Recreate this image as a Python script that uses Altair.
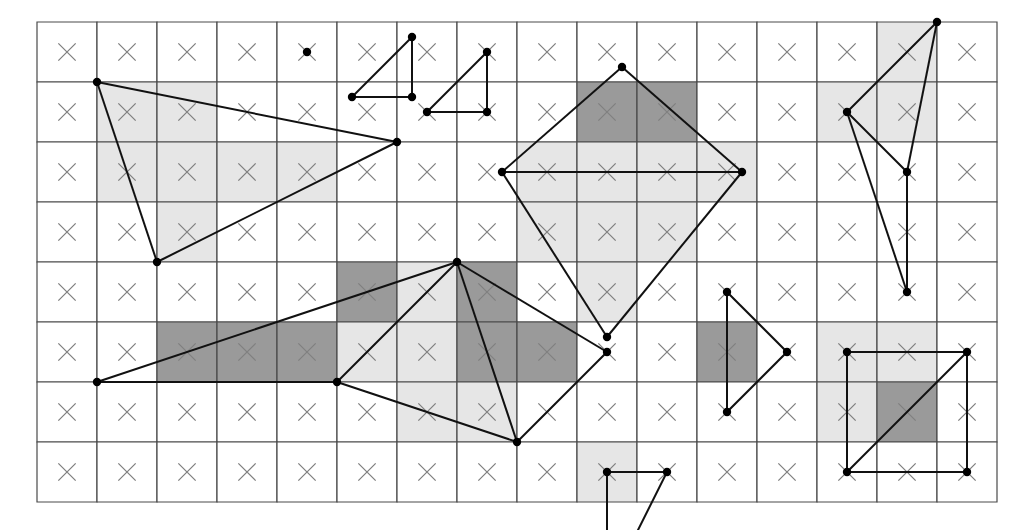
import pandas as pd
import altair as alt

n_cols, n_rows = 16, 8

# shaded cells as (col, row), row 0 at top
light_cells = [(1, 1), (2, 1), (1, 2), (2, 2), (3, 2), (4, 2), (2, 3),
               (8, 2), (9, 2), (10, 2), (11, 2), (8, 3), (9, 3), (10, 3), (9, 4),
               (14, 0), (13, 1), (14, 1), (6, 4), (5, 5), (6, 5), (6, 6), (7, 6),
               (13, 5), (14, 5), (13, 6), (9, 7)]
dark_cells = [(9, 1), (10, 1), (5, 4), (7, 4), (2, 5), (3, 5), (4, 5), (7, 5),
              (8, 5), (11, 5), (14, 6)]

# line segments (x1, y1, x2, y2) in grid units
segments = [
    (1, 1, 6, 2), (6, 2, 2, 4), (2, 4, 1, 1),
    (6.25, 0.25, 5.25, 1.25), (5.25, 1.25, 6.25, 1.25), (6.25, 1.25, 6.25, 0.25),
    (7.5, 0.5, 6.5, 1.5), (6.5, 1.5, 7.5, 1.5), (7.5, 1.5, 7.5, 0.5),
    (9.75, 0.75, 7.75, 2.5), (9.75, 0.75, 11.75, 2.5), (7.75, 2.5, 11.75, 2.5),
    (7.75, 2.5, 9.5, 5.25), (11.75, 2.5, 9.5, 5.25),
    (15, 0, 13.5, 1.5), (15, 0, 14.5, 2.5), (13.5, 1.5, 14.5, 2.5),
    (13.5, 1.5, 14.5, 4.5), (14.5, 2.5, 14.5, 4.5),
    (1, 6, 7, 4), (1, 6, 5, 6), (5, 6, 7, 4), (5, 6, 8, 7), (7, 4, 8, 7),
    (7, 4, 9.5, 5.5), (9.5, 5.5, 8, 7),
    (11.5, 4.5, 12.5, 5.5), (12.5, 5.5, 11.5, 6.5), (11.5, 6.5, 11.5, 4.5),
    (13.5, 5.5, 15.5, 5.5), (15.5, 5.5, 15.5, 7.5), (15.5, 7.5, 13.5, 7.5),
    (13.5, 7.5, 13.5, 5.5), (13.5, 7.5, 15.5, 5.5),
    (9.5, 7.5, 10.5, 7.5), (9.5, 7.5, 9.5, 8.6), (10.5, 7.5, 9.95, 8.6),
]

# vertices drawn as dots
vertices = [(1, 1), (6, 2), (2, 4), (4.5, 0.5),
            (6.25, 0.25), (5.25, 1.25), (6.25, 1.25),
            (7.5, 0.5), (6.5, 1.5), (7.5, 1.5),
            (9.75, 0.75), (7.75, 2.5), (11.75, 2.5), (9.5, 5.25),
            (15, 0), (13.5, 1.5), (14.5, 2.5), (14.5, 4.5),
            (1, 6), (7, 4), (5, 6), (8, 7), (9.5, 5.5),
            (11.5, 4.5), (12.5, 5.5), (11.5, 6.5),
            (13.5, 5.5), (15.5, 5.5), (15.5, 7.5), (13.5, 7.5),
            (9.5, 7.5), (10.5, 7.5)]

shade = {c: "light" for c in light_cells}
shade.update({c: "dark" for c in dark_cells})
cells = pd.DataFrame([
    {"x": c, "x2": c + 1, "y": r, "y2": r + 1, "cx": c + 0.5, "cy": r + 0.5,
     "fill": shade.get((c, r), "none")}
    for r in range(n_rows) for c in range(n_cols)
])
seg_df = pd.DataFrame(segments, columns=["x", "y", "x2", "y2"])
pt_df = pd.DataFrame(vertices, columns=["x", "y"])

xs = alt.Scale(domain=[0, n_cols])
ys = alt.Scale(domain=[0, n_rows], reverse=True)
noax = None

grid = alt.Chart(cells).mark_rect(stroke="#4a4a4a", strokeWidth=1.2).encode(
    x=alt.X("x:Q", scale=xs, axis=noax), x2="x2",
    y=alt.Y("y:Q", scale=ys, axis=noax), y2="y2",
    fill=alt.Fill("fill:N", scale=alt.Scale(domain=["none", "light", "dark"],
                                            range=["#ffffff", "#e6e6e6", "#9a9a9a"]),
                  legend=None),
)

crosses = alt.Chart(cells).mark_point(
    shape="M-1,-1L1,1M1,-1L-1,1", size=300, filled=False,
    stroke="#808080", strokeWidth=1.3, opacity=1,
).encode(x=alt.X("cx:Q", scale=xs, axis=noax), y=alt.Y("cy:Q", scale=ys, axis=noax))

lines = alt.Chart(seg_df).mark_rule(color="#111111", strokeWidth=2, clip=False).encode(
    x=alt.X("x:Q", scale=xs, axis=noax), x2="x2",
    y=alt.Y("y:Q", scale=ys, axis=noax), y2="y2",
)

dots = alt.Chart(pt_df).mark_circle(color="#000000", size=70, opacity=1).encode(
    x=alt.X("x:Q", scale=xs, axis=noax), y=alt.Y("y:Q", scale=ys, axis=noax)
)

chart = alt.layer(grid, crosses, lines, dots).properties(
    width=960, height=480,
    autosize=alt.AutoSizeParams(type="none"),
    padding={"left": 29, "top": 14, "right": 10, "bottom": 40},
).configure_view(stroke=None)

chart.save("out.html", embed_options={"renderer": "svg", "actions": False})
